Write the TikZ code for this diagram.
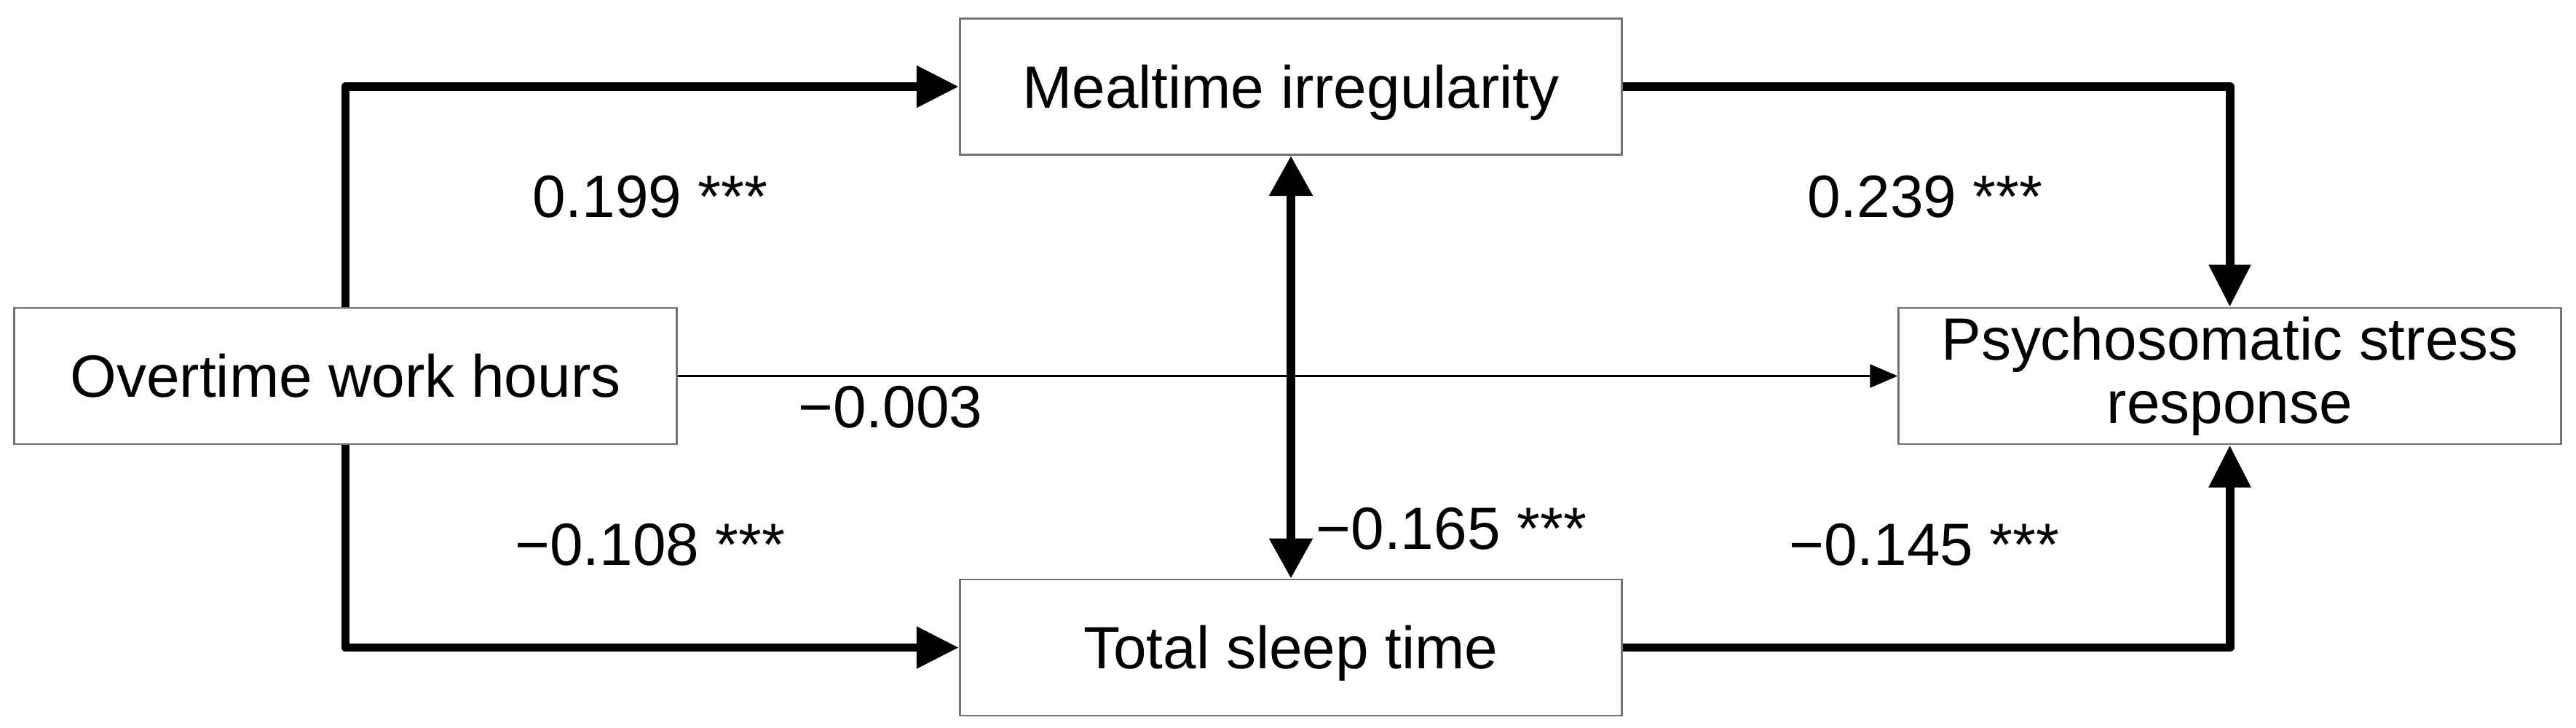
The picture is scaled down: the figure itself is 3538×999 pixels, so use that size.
\documentclass[tikz,border=0pt]{standalone}
\usepackage{fontspec}
\setmainfont{Liberation Sans}
\usetikzlibrary{arrows.meta}
\begin{document}
\begin{tikzpicture}[x=0.01cm,y=-0.01cm,
  font=\fontsize{23.3}{24.7}\selectfont,
  box/.style={draw=black!55,line width=0.8pt,fill=white,minimum width=9.09cm,minimum height=1.87cm,inner sep=0pt,align=center},
  onebox/.style={box,text height=16.7pt,text depth=0pt},
  thickarrow/.style={line width=3.4pt,line join=round,-{Triangle[length=0.58cm,width=0.55cm]}},
  thinarrow/.style={line width=0.7pt,-{Triangle[length=0.38cm,width=0.32cm]}},
  coef/.style={inner sep=0pt}]
\useasboundingbox (0,0) rectangle (3538,999);
\node[onebox] (ov) at (474.5,516.5) {Overtime work hours};
\node[onebox] (meal) at (1773,119) {Mealtime irregularity};
\node[onebox] (sleep) at (1773,889.5) {Total sleep time};
\node[box] (psych) at (3062.5,516.5) {Psychosomatic stress\\response};
\draw[thickarrow] (ov.north) |- (meal.west);
\draw[thickarrow] (ov.south) |- (sleep.west);
\draw[thickarrow] (meal.east) -| (psych.north);
\draw[thickarrow] (sleep.east) -| (psych.south);
\draw[thinarrow] (ov.east) -- (psych.west);
\draw[line width=3.4pt,{Triangle[length=0.55cm,width=0.57cm]}-{Triangle[length=0.55cm,width=0.57cm]}] (meal.south) -- (sleep.north);
\node[coef] (l1) at (893,270) {0.199 ***};
\node[coef] (l2) at (1223,559) {−0.003};
\node[coef] (l3) at (893,748) {−0.108 ***};
\node[coef,anchor=west] (l4) at (1807,726) {−0.165 ***};
\node[coef] (l5) at (2644,270) {0.239 ***};
\node[coef] (l6) at (2643,748) {−0.145 ***};
\end{tikzpicture}
\end{document}
